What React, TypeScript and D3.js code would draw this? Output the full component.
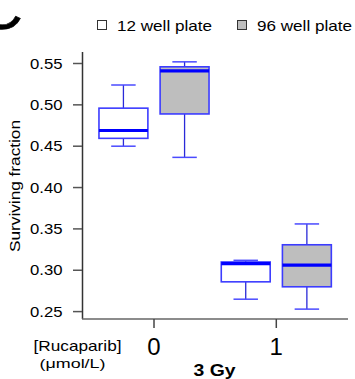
import React, { useRef, useEffect } from "react";
import * as d3 from "d3";

// dose groups (rucaparib, umol/L)
const groups = [0, 1];
const seriesNames = ["12 well plate", "96 well plate"];
const seriesFill = ["#ffffff", "#bebebe"];

// box stats per group: [min, q1, median, q3, max]
const plate12 = [
  [0.450, 0.4595, 0.469, 0.496, 0.524],
  [0.265, 0.286, 0.308, 0.310, 0.312],
];
const plate96 = [
  [0.4365, 0.489, 0.541, 0.546, 0.552],
  [0.253, 0.280, 0.3063, 0.3308, 0.356],
];
const yTicks = [0.25, 0.3, 0.35, 0.4, 0.45, 0.5, 0.55];

const FONT = "Liberation Sans, Arial, Helvetica, sans-serif";

export default function App() {
  const svgRef = useRef<SVGSVGElement>(null);

  useEffect(() => {
    if (!svgRef.current) return;
    const svg = d3.select(svgRef.current);
    svg.selectAll("*").remove();

    const xScale = d3.scaleLinear().domain([0, 1]).range([154, 276.3]);
    const yScale = d3.scaleLinear().domain([0.25, 0.55]).range([311.6, 63.5]);
    const unit = xScale(1) - xScale(0);
    const offsets = [-0.25, 0.25];
    const boxW = 0.4 * unit;
    const capW = 0.2 * unit;

    // panel letter, mostly outside the picture like in the source figure
    svg.append("text")
      .attr("x", -22)
      .attr("y", 29)
      .style("font-family", FONT)
      .style("font-size", "62px")
      .style("stroke", "#000")
      .style("stroke-width", 0.6)
      .text("C");

    // legend
    const legendItems = [
      { label: seriesNames[0], fill: seriesFill[0], sx: 97, tx: 117 },
      { label: seriesNames[1], fill: seriesFill[1], sx: 237, tx: 257 },
    ];
    legendItems.forEach((item) => {
      svg.append("rect")
        .attr("x", item.sx + 0.5)
        .attr("y", 20.5)
        .attr("width", 9)
        .attr("height", 9)
        .attr("fill", item.fill)
        .attr("stroke", "#333")
        .attr("stroke-width", 1);
      svg.append("text")
        .attr("x", item.tx)
        .attr("y", 30.5)
        .attr("textLength", 95)
        .attr("lengthAdjust", "spacingAndGlyphs")
        .style("font-family", FONT)
        .style("font-size", "14.5px")
        .text(item.label);
    });

    // y axis
    svg.append("line")
      .attr("x1", 82.5).attr("x2", 82.5)
      .attr("y1", 52).attr("y2", 319)
      .attr("stroke", "#333").attr("stroke-width", 1.5);
    yTicks.forEach((t) => {
      const y = yScale(t);
      svg.append("line")
        .attr("x1", 73).attr("x2", 82)
        .attr("y1", y).attr("y2", y)
        .attr("stroke", "#555").attr("stroke-width", 1.5);
      svg.append("text")
        .attr("x", 62.5)
        .attr("y", y + 5)
        .attr("text-anchor", "end")
        .attr("textLength", 32.5)
        .attr("lengthAdjust", "spacingAndGlyphs")
        .style("font-family", FONT)
        .style("font-size", "14px")
        .text(t.toFixed(2));
    });
    svg.append("text")
      .attr("transform", `translate(20,186) rotate(-90)`)
      .attr("text-anchor", "middle")
      .attr("textLength", 132)
      .attr("lengthAdjust", "spacingAndGlyphs")
      .style("font-family", FONT)
      .style("font-size", "14px")
      .text("Surviving fraction");

    // x axis
    svg.append("line")
      .attr("x1", 82).attr("x2", 348)
      .attr("y1", 319).attr("y2", 319)
      .attr("stroke", "#666").attr("stroke-width", 1.5);
    groups.forEach((g, i) => {
      const x = xScale(i);
      svg.append("line")
        .attr("x1", x).attr("x2", x)
        .attr("y1", 319).attr("y2", 328)
        .attr("stroke", "#444").attr("stroke-width", 1.5);
      svg.append("text")
        .attr("x", x)
        .attr("y", 355)
        .attr("text-anchor", "middle")
        .style("font-family", FONT)
        .style("font-size", "24px")
        .text(String(g));
    });
    svg.append("text")
      .attr("x", 77.5).attr("y", 351)
      .attr("text-anchor", "middle")
      .attr("textLength", 88)
      .attr("lengthAdjust", "spacingAndGlyphs")
      .style("font-family", FONT)
      .style("font-size", "14.5px")
      .text("[Rucaparib]");
    svg.append("text")
      .attr("x", 72.5).attr("y", 368)
      .attr("text-anchor", "middle")
      .attr("textLength", 66)
      .attr("lengthAdjust", "spacingAndGlyphs")
      .style("font-family", FONT)
      .style("font-size", "12.5px")
      .text("(\u03bcmol/L)");
    svg.append("text")
      .attr("x", 214.5).attr("y", 376)
      .attr("text-anchor", "middle")
      .attr("textLength", 42)
      .attr("lengthAdjust", "spacingAndGlyphs")
      .style("font-family", FONT)
      .style("font-weight", "bold")
      .style("font-size", "17px")
      .text("3 Gy");

    // boxes
    [plate12, plate96].forEach((series, si) => {
      series.forEach((stats, gi) => {
        const [mn, q1, md, q3, mx] = stats;
        const cx = xScale(gi + offsets[si]);
        const box = svg.append("g");
        // whiskers
        box.append("line")
          .attr("x1", cx).attr("x2", cx)
          .attr("y1", yScale(mx)).attr("y2", yScale(q3))
          .attr("stroke", "#2a2ad8").attr("stroke-width", 1.3);
        box.append("line")
          .attr("x1", cx).attr("x2", cx)
          .attr("y1", yScale(q1)).attr("y2", yScale(mn))
          .attr("stroke", "#2a2ad8").attr("stroke-width", 1.3);
        [mn, mx].forEach((v) => {
          box.append("line")
            .attr("x1", cx - capW / 2).attr("x2", cx + capW / 2)
            .attr("y1", yScale(v)).attr("y2", yScale(v))
            .attr("stroke", "#4a4aff").attr("stroke-width", 1.5);
        });
        box.append("rect")
          .attr("x", cx - boxW / 2)
          .attr("y", yScale(q3))
          .attr("width", boxW)
          .attr("height", yScale(q1) - yScale(q3))
          .attr("fill", seriesFill[si])
          .attr("stroke", "#3c3cff")
          .attr("stroke-width", 1.6);
        box.append("line")
          .attr("x1", cx - boxW / 2).attr("x2", cx + boxW / 2)
          .attr("y1", yScale(md)).attr("y2", yScale(md))
          .attr("stroke", "#0000ff").attr("stroke-width", 3.2);
      });
    });
  }, []);

  return (
    <svg
      ref={svgRef}
      width={355}
      height={379}
      style={{ position: "absolute", left: 0, top: 0, background: "#fff" }}
    />
  );
}
